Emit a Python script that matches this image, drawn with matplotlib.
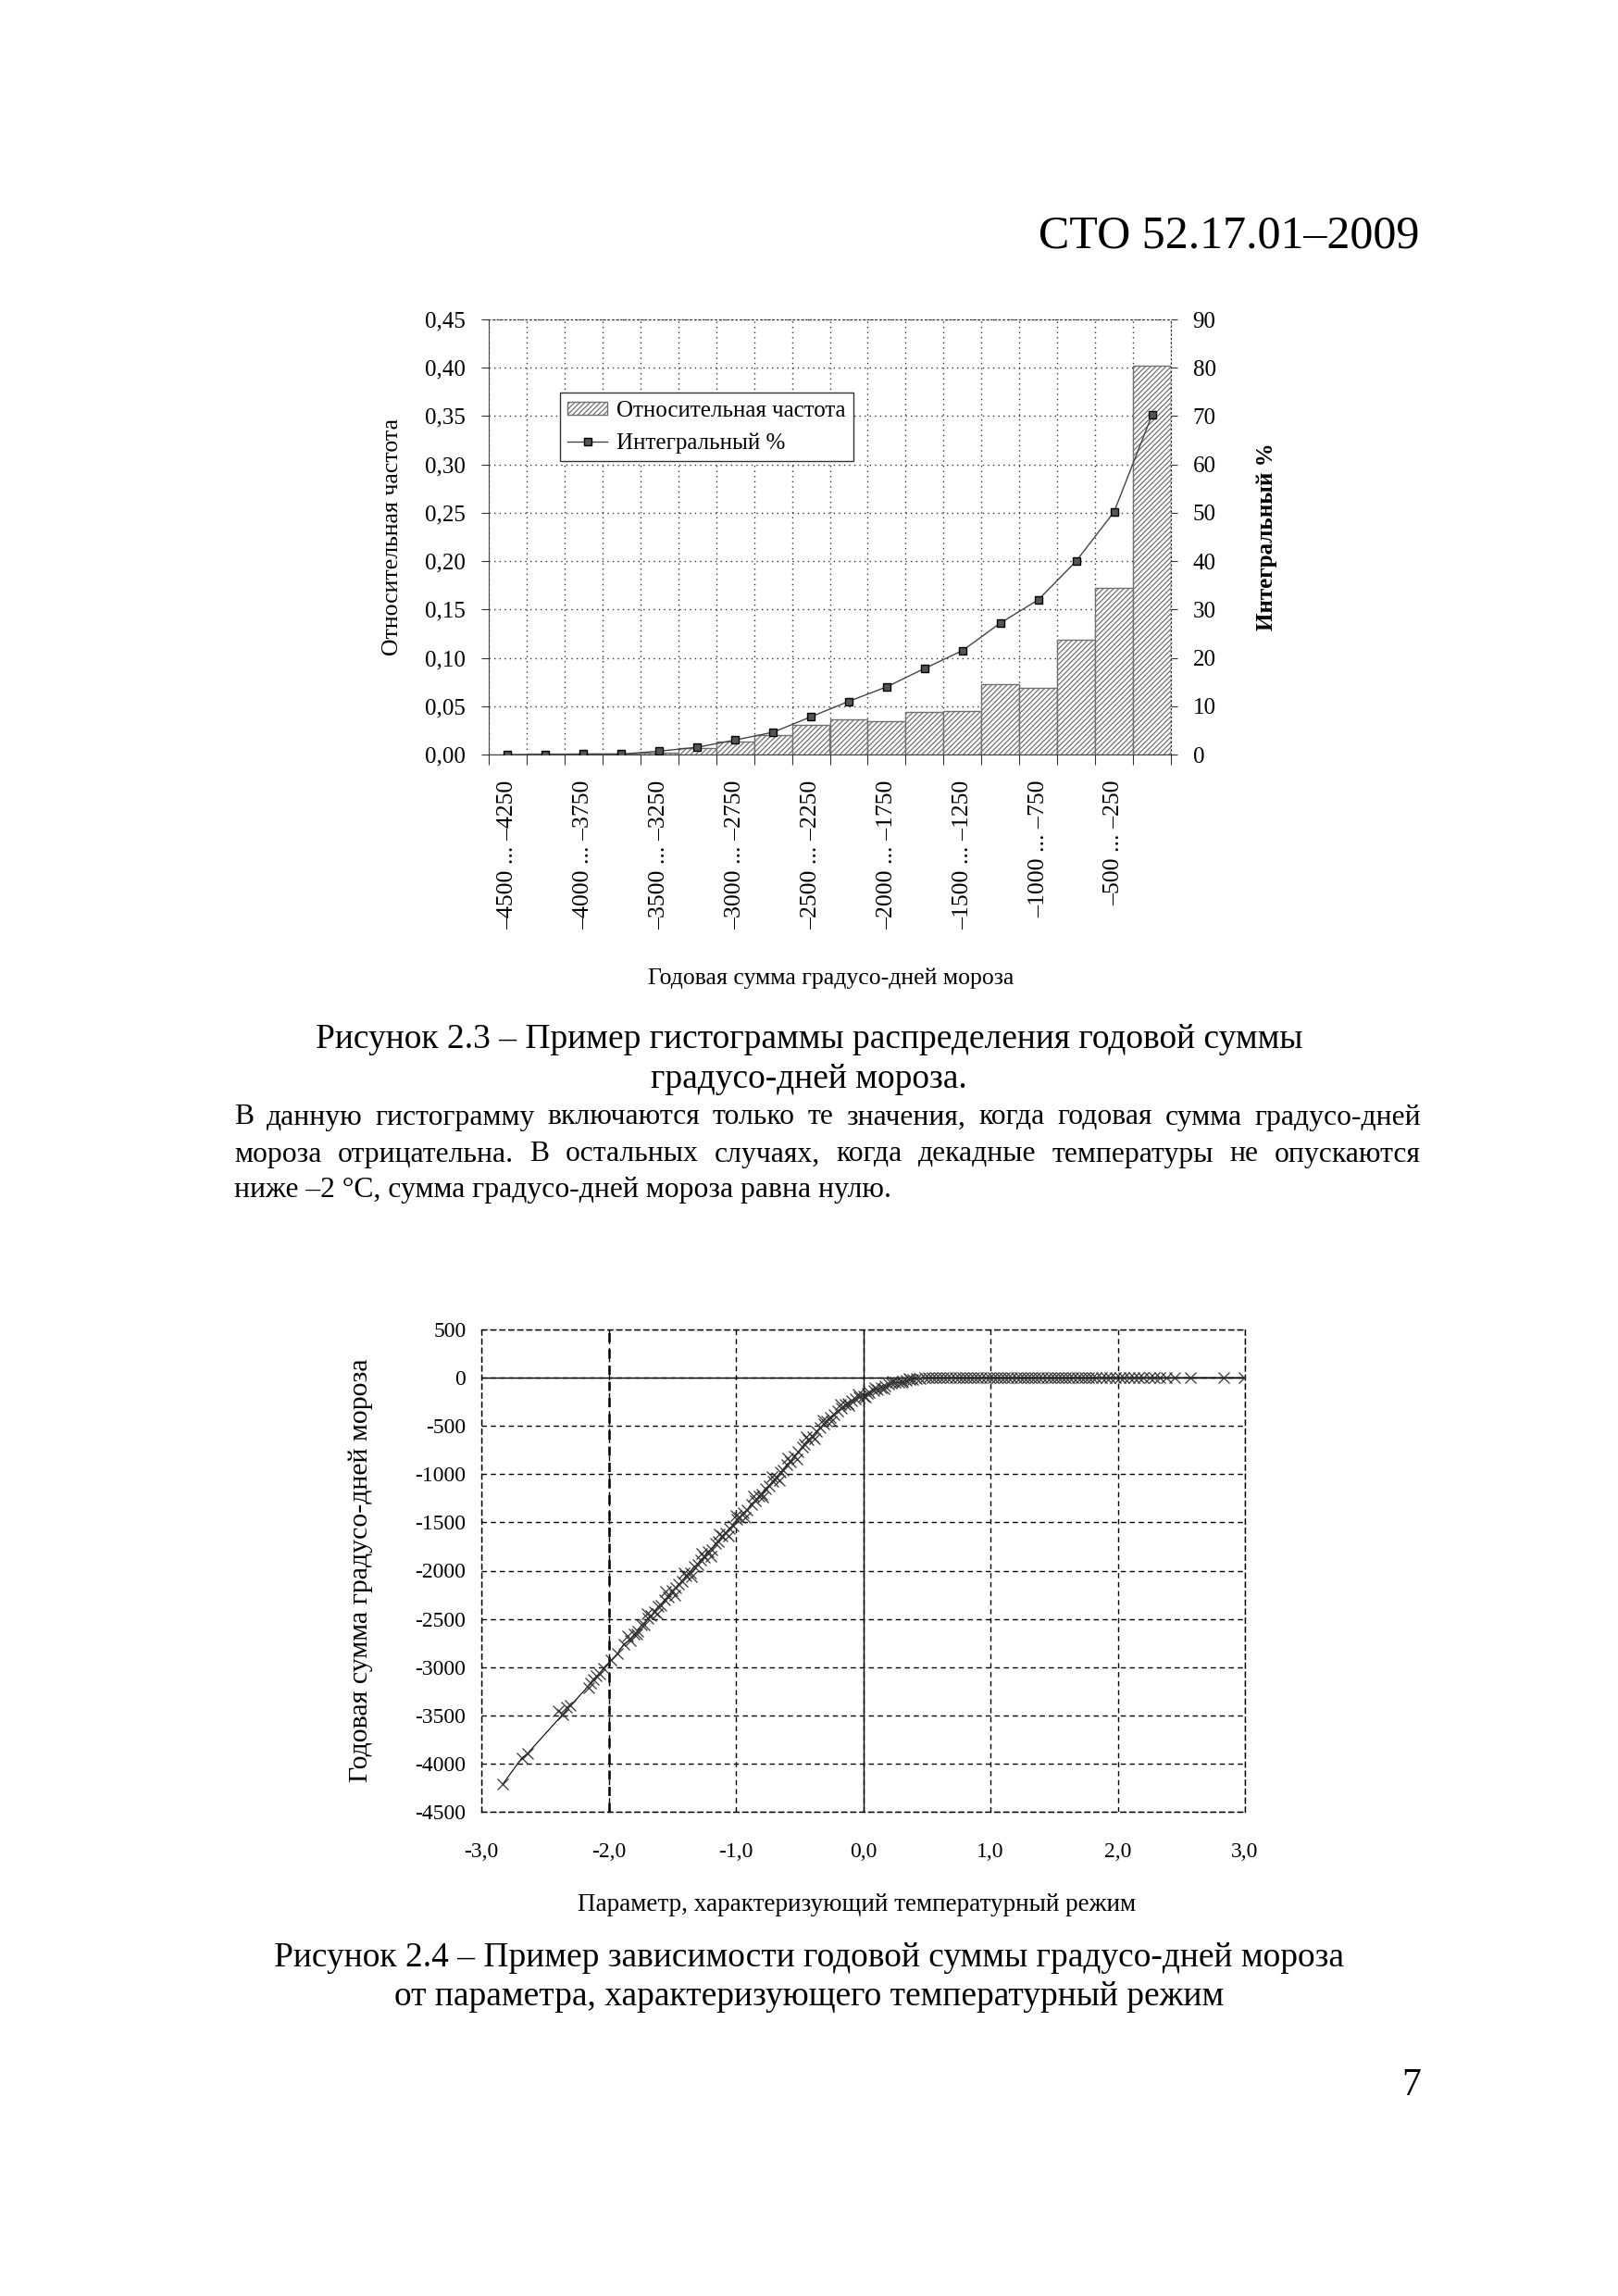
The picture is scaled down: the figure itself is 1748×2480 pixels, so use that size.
import matplotlib
matplotlib.use('Agg')
import matplotlib.pyplot as plt
from matplotlib.patches import Patch
from matplotlib.lines import Line2D

plt.rcParams['font.family'] = ['Liberation Serif', 'DejaVu Serif']
plt.rcParams['hatch.linewidth'] = 0.9

# --- Рисунок 2.3: гистограмма ---
bin_labels = ['–4500 ... –4250', '–4250 ... –4000', '–4000 ... –3750', '–3750 ... –3500',
              '–3500 ... –3250', '–3250 ... –3000', '–3000 ... –2750', '–2750 ... –2500',
              '–2500 ... –2250', '–2250 ... –2000', '–2000 ... –1750', '–1750 ... –1500',
              '–1500 ... –1250', '–1250 ... –1000', '–1000 ... –750', '–750 ... –500',
              '–500 ... –250', '–250 ... 0']
rel_freq = [0.000, 0.0005, 0.001, 0.0005, 0.002, 0.007, 0.013, 0.020, 0.031, 0.036,
            0.034, 0.044, 0.045, 0.073, 0.069, 0.119, 0.172, 0.402]
cum_pct = [0.0, 0.0, 0.1, 0.1, 0.7, 1.5, 3.0, 4.6, 7.8, 11.0,
           14.0, 17.8, 21.5, 27.2, 32.0, 40.0, 50.2, 70.2]
left_ticks = [0.00, 0.05, 0.10, 0.15, 0.20, 0.25, 0.30, 0.35, 0.40, 0.45]
right_ticks = [0, 10, 20, 30, 40, 50, 60, 70, 80, 90]

# --- Рисунок 2.4: зависимость ---
param_x = [-2.83, -2.68, -2.64, -2.36, -2.30, -2.14, -2.12, -2.07, -2.04, -1.98,
           -1.93, -1.88, -1.83, -1.80, -1.77, -1.74, -1.72, -1.69, -1.67, -1.64,
           -1.61, -1.59, -1.56, -1.53, -1.50, -1.47, -1.45, -1.42, -1.39, -1.36,
           -1.33, -1.30, -1.28, -1.25, -1.22, -1.19, -1.16, -1.14, -1.11, -1.08,
           -1.05, -1.02, -0.99, -0.97, -0.94, -0.91, -0.88, -0.85, -0.82, -0.80,
           -0.77, -0.74, -0.71, -0.68, -0.65, -0.63, -0.60, -0.57, -0.54, -0.51,
           -0.48, -0.46, -0.43, -0.40, -0.37, -0.34, -0.31, -0.29, -0.26, -0.23,
           -0.20, -0.17, -0.14, -0.12, -0.09, -0.06, -0.03, 0.00, 0.03, 0.05,
           0.08, 0.11, 0.14, 0.17, 0.20, 0.22, 0.25, 0.28, 0.31, 0.34,
           0.37, 0.39, 0.42, 0.45, 0.48]
frost_sum = [-4210, -3940, -3900, -3490, -3400, -3170, -3130, -3070, -3010, -2930,
             -2860, -2760, -2720, -2660, -2630, -2560, -2560, -2490, -2470, -2430,
             -2370, -2360, -2300, -2270, -2210, -2180, -2140, -2110, -2050, -2020,
             -1960, -1940, -1890, -1860, -1800, -1780, -1720, -1700, -1640, -1610,
             -1560, -1530, -1470, -1450, -1400, -1370, -1310, -1280, -1230, -1210,
             -1150, -1120, -1070, -1040, -980, -960, -900, -870, -810, -770,
             -720, -690, -640, -610, -560, -520, -480, -450, -410, -380,
             -340, -320, -280, -270, -240, -220, -200, -190, -160, -150,
             -130, -120, -100, -90, -70, -60, -50, -50, -42, -32,
             -22, -15, -9, -4, -1]
# scattered years around the main band
extra_x = [-2.40, -2.33, -2.16, -2.10, -1.85, -1.78, -1.70, -1.62, -1.55, -1.48,
           -1.41, -1.35, -1.27, -1.20, -1.13, -1.06, -1.00, -0.93, -0.86, -0.79,
           -0.72, -0.66, -0.59, -0.52, -0.45, -0.38, -0.32, -0.25, -0.18, -0.11,
           -0.04, 0.02, 0.09, 0.16, 0.23, 0.30, 0.36]
extra_y = [-3450, -3420, -3210, -3090, -2680, -2660, -2450, -2450, -2220, -2250,
           -2020, -2060, -1820, -1850, -1620, -1640, -1430, -1450, -1230, -1240,
           -1030, -1060, -830, -840, -610, -630, -440, -450, -280, -290,
           -170, -200, -100, -115, -40, -50, -8]
flat_x = [0.51, 0.54, 0.57, 0.60, 0.63, 0.66, 0.69, 0.72, 0.75, 0.78, 0.81, 0.84,
          0.87, 0.90, 0.93, 0.96, 0.99, 1.02, 1.05, 1.08, 1.11, 1.14, 1.17, 1.20,
          1.23, 1.26, 1.29, 1.32, 1.35, 1.38, 1.41, 1.44, 1.47, 1.50, 1.53, 1.56,
          1.59, 1.62, 1.65, 1.68, 1.71, 1.74, 1.77, 1.80, 1.83, 1.87, 1.91, 1.94,
          1.98, 2.02, 2.05, 2.09, 2.13, 2.16, 2.20, 2.25, 2.29, 2.33, 2.38, 2.45,
          2.57, 2.83, 2.99]
flat_y = [0] * len(flat_x)
x_ticks = [-3, -2, -1, 0, 1, 2, 3]
y_ticks = [500, 0, -500, -1000, -1500, -2000, -2500, -3000, -3500, -4000, -4500]

W, H = 1748, 2480
fig = plt.figure(figsize=(W / 100, H / 100), dpi=100)


def fx(x):
    return x / W


def fy(y):
    return 1 - y / H


def justified(text, y, x0, x1, size):
    words = text.split()
    objs = [fig.text(fx(x0), fy(y), w, fontsize=size, va='center') for w in words]
    r = fig.canvas.get_renderer()
    ws = [o.get_window_extent(r).width for o in objs]
    gap = (x1 - x0 - sum(ws)) / (len(words) - 1)
    pos = x0
    for o, w in zip(objs, ws):
        o.set_x(fx(pos))
        pos += w + gap


dots = (0, (1, 3))

# ---------------- histogram ----------------
ax = fig.add_axes([fx(528), fy(815), 737 / W, 470 / H])
pos = list(range(len(rel_freq)))
ax.bar(pos, rel_freq, width=1.0, color='white', edgecolor='#707070',
       hatch='//////', linewidth=1.0, zorder=2)
ax.set_xlim(-0.5, len(rel_freq) - 0.5)
ax.set_ylim(0, 0.45)
ax.set_yticks(left_ticks, [f'{v:.2f}'.replace('.', ',') for v in left_ticks])
bounds = [i - 0.5 for i in range(len(rel_freq) + 1)]
ax.set_xticks(bounds, [''] * len(bounds))
ax.set_xticks(pos[::2], bin_labels[::2], minor=True)
ax.tick_params(axis='x', which='major', length=8, color='#333')
ax.tick_params(axis='x', which='minor', length=0, pad=20, labelsize=18.5, labelrotation=90)
ax.tick_params(axis='y', length=6, pad=12, labelsize=18, color='#333')
ax.grid(True, which='major', linestyle=dots, color='#333', linewidth=1.0, zorder=0)
ax.set_axisbelow(True)
for s in ['top', 'right']:
    ax.spines[s].set_linestyle(dots)
    ax.spines[s].set_color('#333')
for s in ['left', 'bottom']:
    ax.spines[s].set_color('#444')
ax.set_ylabel('Относительная частота', fontsize=18.5)
ax.yaxis.set_label_coords(-0.126, 0.5)

ax2 = ax.twinx()
ax2.plot(pos, cum_pct, color='#444', linewidth=1.0, marker='s', markersize=6,
         markerfacecolor='#555', markeredgecolor='black')
ax2.set_ylim(0, 90)
ax2.set_yticks(right_ticks, [str(v) for v in right_ticks])
ax2.tick_params(axis='y', length=5, pad=12, labelsize=18, color='#333')
for s in ['top', 'right']:
    ax2.spines[s].set_linestyle(dots)
    ax2.spines[s].set_color('#333')
ax2.spines['left'].set_visible(False)
ax2.spines['bottom'].set_visible(False)
ax2.set_ylabel('Интегральный %', fontsize=18, fontweight='bold', rotation=90)
ax2.yaxis.set_label_coords(1.125, 0.5)

handles = [Patch(facecolor='white', edgecolor='#707070', hatch='//////'),
           Line2D([], [], color='#444', linewidth=1.0, marker='s', markersize=6,
                  markerfacecolor='#555', markeredgecolor='black')]
leg = ax2.legend(handles, ['Относительная частота', 'Интегральный %'],
                 loc='upper left', bbox_to_anchor=(0.104, 0.832), borderaxespad=0,
                 fontsize=18, fancybox=False, framealpha=1, edgecolor='#333',
                 handlelength=1.7, handleheight=0.45, labelspacing=0.5,
                 borderpad=0.35, handletextpad=0.4)
leg.get_frame().set_linewidth(1.0)

fig.text(fx(898), fy(1057), 'Годовая сумма градусо-дней мороза', fontsize=18.5,
         ha='center', va='center')

# ---------------- scatter ----------------
bx = fig.add_axes([fx(520), fy(1957), 825 / W, 521 / H])
xs = param_x + flat_x
ys = frost_sum + flat_y
bx.plot(xs, ys, color='black', linewidth=0.8, marker='x', markersize=9,
        markeredgecolor='#333', markeredgewidth=0.9, zorder=3)
bx.plot(extra_x, extra_y, linestyle='none', marker='x', markersize=9,
        markeredgecolor='#333', markeredgewidth=0.9, zorder=3)
bx.set_xlim(-3, 3)
bx.set_ylim(-4500, 500)
bx.set_xticks(x_ticks, [f'{v:.1f}'.replace('.', ',') for v in x_ticks])
bx.set_yticks(y_ticks, [str(v) for v in y_ticks])
bx.tick_params(length=0, labelsize=17)
bx.tick_params(axis='x', pad=24)
bx.tick_params(axis='y', pad=12)
bx.grid(True, linestyle=(0, (4, 3)), color='black', linewidth=1.0)
for s in bx.spines.values():
    s.set_linestyle((0, (4, 3)))
    s.set_linewidth(1.0)
bx.axvline(-2, color='black', linestyle=(0, (4, 3)), linewidth=1.8, zorder=1)
bx.axhline(0, color='black', linewidth=1.0, zorder=2)
bx.axvline(0, color='black', linewidth=1.0, zorder=2)
bx.set_ylabel('Годовая сумма градусо-дней мороза', fontsize=21.5)
bx.yaxis.set_label_coords(-0.142, 0.5)
fig.text(fx(926), fy(2057), 'Параметр, характеризующий температурный режим',
         fontsize=19.5, ha='center', va='center')

# ---------------- page text ----------------
fig.text(fx(1533), fy(268), 'СТО 52.17.01–2009', fontsize=36, ha='right', va='baseline')
fig.text(fx(874), fy(1123), 'Рисунок 2.3 – Пример гистограммы распределения годовой суммы',
         fontsize=27, ha='center', va='center')
fig.text(fx(874), fy(1166), 'градусо-дней мороза.', fontsize=27, ha='center', va='center')
justified('В данную гистограмму включаются только те значения, когда годовая сумма градусо-дней',
          1207, 253, 1535, 22.8)
justified('мороза отрицательна. В остальных случаях, когда декадные температуры не опускаются',
          1247, 253, 1535, 22.8)
fig.text(fx(253), fy(1286), 'ниже –2 °C, сумма градусо-дней мороза равна нулю.',
         fontsize=22.8, ha='left', va='center')
fig.text(fx(874), fy(2115), 'Рисунок 2.4 – Пример зависимости годовой суммы градусо-дней мороза',
         fontsize=27, ha='center', va='center')
fig.text(fx(874), fy(2157), 'от параметра, характеризующего температурный режим',
         fontsize=27, ha='center', va='center')
fig.text(fx(1525), fy(2253), '7', fontsize=30, ha='center', va='center')

fig.savefig('out.png', dpi=100, facecolor='white')
